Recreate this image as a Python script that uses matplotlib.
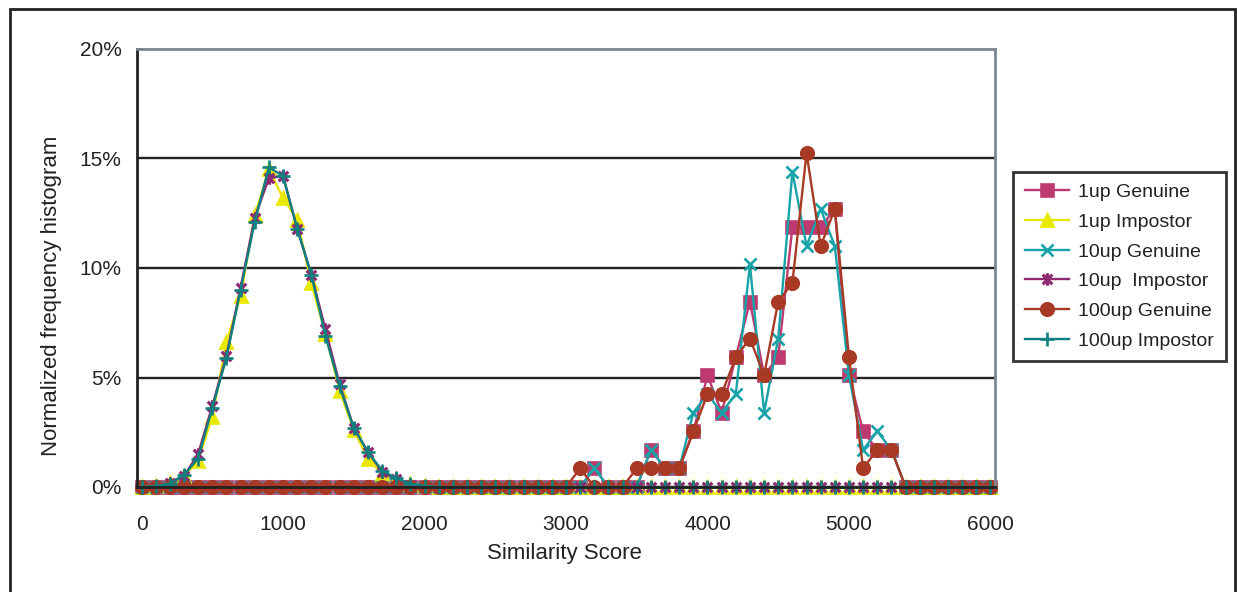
import numpy as np
import matplotlib
matplotlib.use("Agg")
import matplotlib.pyplot as plt
from matplotlib.path import Path
from matplotlib.patches import Rectangle
from matplotlib.ticker import FuncFormatter

plt.rcParams['font.family'] = ['Liberation Sans', 'DejaVu Sans']

# similarity score bins, 0..6000 step 100
scores = np.arange(0, 6001, 100)

# impostor distributions (percent), bins 0..2000, zero afterwards
imp_1up = [0, 0.05, 0.2, 0.5, 1.2, 3.2, 6.6, 8.7, 12.4, 14.5, 13.2,
           12.2, 9.3, 7.0, 4.4, 2.6, 1.3, 0.6, 0.35, 0.15, 0.05]
imp_10up = [0, 0.05, 0.2, 0.5, 1.5, 3.7, 6.0, 9.1, 12.3, 14.1, 14.2,
            11.8, 9.7, 7.2, 4.7, 2.7, 1.6, 0.7, 0.35, 0.1, 0.05]
imp_100up = [0, 0.05, 0.15, 0.55, 1.3, 3.6, 5.9, 9.0, 12.1, 14.6, 14.2,
             11.8, 9.7, 6.9, 4.6, 2.7, 1.6, 0.75, 0.4, 0.15, 0.05]

# genuine distributions (percent), bins 3000..5400, zero elsewhere
gen_1up = [0, 0, 0.85, 0, 0, 0, 1.7, 0.85, 0.85, 2.54, 5.1, 3.4, 5.93,
           8.47, 5.1, 5.93, 11.86, 11.86, 11.86, 12.7, 5.1, 2.54, 1.7, 1.7, 0]
gen_10up = [0, 0, 0.85, 0, 0, 0, 1.7, 0.85, 0.85, 3.4, 4.24, 3.4, 4.24,
            10.17, 3.4, 6.78, 14.4, 11.0, 12.7, 11.0, 5.1, 1.7, 2.54, 1.7, 0]
gen_100up = [0, 0.85, 0, 0, 0, 0.85, 0.85, 0.85, 0.85, 2.54, 4.24, 4.24, 5.93,
             6.78, 5.1, 8.47, 9.32, 15.25, 11.0, 12.7, 5.93, 0.85, 1.7, 1.7, 0]


def full_imp(vals):
    out = np.zeros(len(scores))
    out[:len(vals)] = vals
    return out


def full_gen(vals):
    out = np.zeros(len(scores))
    out[30:30 + len(vals)] = vals
    return out


# excel style "star" marker: an x with a vertical bar
star = Path([(-1, -1), (1, 1), (-1, 1), (1, -1), (0, -1.3), (0, 1.3)],
            [Path.MOVETO, Path.LINETO, Path.MOVETO, Path.LINETO,
             Path.MOVETO, Path.LINETO])

series = [
    ("1up Genuine", full_gen(gen_1up), "#bc3a70", "s", 8.5, 1.9),
    ("1up Impostor", full_imp(imp_1up), "#e8e800", "^", 9, 1.9),
    ("10up Genuine", full_gen(gen_10up), "#18a3a8", "x", 8, 1.9),
    ("10up  Impostor", full_imp(imp_10up), "#8e2a72", star, 9, 2.3),
    ("100up Genuine", full_gen(gen_100up), "#a83a25", "o", 9, 1.9),
    ("100up Impostor", full_imp(imp_100up), "#0f8080", "+", 10, 1.9),
]

fig = plt.figure(figsize=(12.37, 5.92), dpi=100)
ax = fig.add_axes([137 / 1237, 1 - 487 / 592, 858 / 1237, 438 / 592])

for name, vals, col, mk, ms, mew in series:
    ax.plot(scores, vals, color=col, lw=1.7, marker=mk, markersize=ms,
            markeredgewidth=mew, markerfacecolor=col, markeredgecolor=col,
            label=name, clip_on=False)

ax.set_xlim(-32, 6032)
ax.set_ylim(0, 20)
ax.set_xticks(range(0, 6001, 1000))
ax.set_yticks([0, 5, 10, 15, 20])
ax.yaxis.set_major_formatter(FuncFormatter(lambda v, p: f"{v:.0f}%"))
for y in [5, 10, 15]:
    ax.axhline(y, color="#222222", lw=1.7, zorder=0.5)
ax.tick_params(axis='both', direction='in', length=4, width=1.2,
               labelsize=15, colors="#222222")
ax.tick_params(axis='y', pad=11)
ax.tick_params(axis='x', pad=20)
ax.spines['left'].set_color("#222222")
ax.spines['bottom'].set_color("#222222")
ax.spines['top'].set_color("#7d878f")
ax.spines['right'].set_color("#7d878f")
for s in ax.spines.values():
    s.set_linewidth(2)

fig.text(564 / 1237, 1 - 554 / 592, "Similarity Score", ha='center',
         va='center', fontsize=16, color="#222222")
fig.text(52 / 1237, 1 - 296 / 592, "Normalized frequency histogram",
         ha='center', va='center', rotation=90, fontsize=16, color="#222222")

leg = fig.legend(loc='upper left', bbox_to_anchor=(1013 / 1237, 1 - 172 / 592),
                 fontsize=14, frameon=True, fancybox=False,
                 handlelength=2.3, handletextpad=0.45, borderpad=0.6,
                 labelspacing=0.62, borderaxespad=0)
leg.get_frame().set_edgecolor("black")
leg.get_frame().set_linewidth(2)
for t in leg.get_texts():
    t.set_color("#222222")

# outer chart border
fig.patches.append(Rectangle((9.5 / 1237, -0.1), (1235 - 9.5) / 1237,
                             1.1 - 8.5 / 592, transform=fig.transFigure,
                             fill=False, ec="#222222", lw=2))

fig.savefig("out.png", dpi=100)
